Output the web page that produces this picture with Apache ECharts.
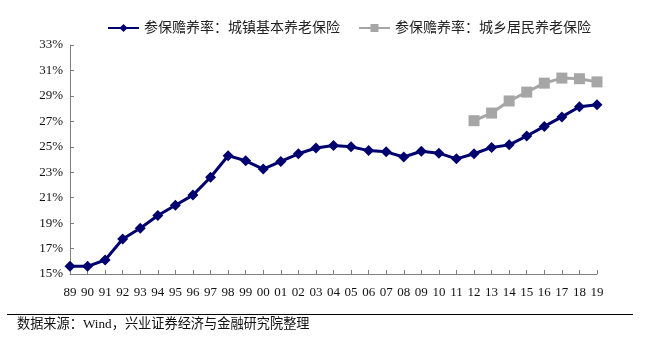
<!DOCTYPE html>
<html>
<head>
<meta charset="utf-8">
<script src="https://cdn.jsdelivr.net/npm/echarts@6/dist/echarts.min.js"></script>
<style>
  html, body { margin: 0; padding: 0; background: #fff; }
  #chart { width: 649px; height: 340px; }
</style>
</head>
<body>
<div id="chart"></div>
<script>
// Years (two-digit labels) 1989–2019
const years = ['89','90','91','92','93','94','95','96','97','98','99','00','01','02','03','04','05','06','07','08','09','10','11','12','13','14','15','16','17','18','19'];

// Dependency ratio, urban employee basic pension (%)
const urbanRatio = [15.6,15.6,16.1,17.75,18.6,19.6,20.4,21.2,22.6,24.3,23.9,23.25,23.85,24.45,24.9,25.1,25.0,24.7,24.6,24.2,24.65,24.5,24.05,24.45,24.95,25.15,25.85,26.6,27.35,28.15,28.3];

// Dependency ratio, urban & rural resident pension (%), available from 2012
const residentRatio = [null,null,null,null,null,null,null,null,null,null,null,null,null,null,null,null,null,null,null,null,null,null,null,27.05,27.65,28.6,29.3,30.0,30.4,30.35,30.1];

const seriesNames = ['参保赡养率：城镇基本养老保险', '参保赡养率：城乡居民养老保险'];
const sourceNote = '数据来源：Wind，兴业证券经济与金融研究院整理';

const serif = '"Times New Roman", "Liberation Serif", "Noto Sans CJK SC", serif';
const cjk = '"Liberation Serif", "Noto Sans CJK SC", serif';

const chart = echarts.init(document.getElementById('chart'));
chart.setOption({
  animation: false,
  backgroundColor: '#ffffff',
  grid: { left: 70, right: 52, top: 45, bottom: 66 },
  legend: {
    top: 16,
    left: 102,
    itemWidth: 31,
    itemHeight: 10,
    itemGap: 18,
    textStyle: { fontFamily: cjk, fontSize: 14, color: '#222' },
    data: seriesNames
  },
  xAxis: {
    type: 'category',
    data: years,
    boundaryGap: false,
    axisLine: { lineStyle: { color: '#808080', width: 1 } },
    axisTick: { inside: true, length: 4, lineStyle: { color: '#808080' } },
    axisLabel: { fontFamily: serif, fontSize: 13, color: '#111', margin: 12, interval: 0 }
  },
  yAxis: {
    type: 'value',
    min: 15,
    max: 33,
    interval: 2,
    splitLine: { show: false },
    axisLine: { show: true, lineStyle: { color: '#808080', width: 1 } },
    axisTick: { show: true, inside: true, length: 4, lineStyle: { color: '#808080' } },
    axisLabel: { fontFamily: serif, fontSize: 13, color: '#111', margin: 7, formatter: v => v + '%' }
  },
  series: [
    {
      name: seriesNames[0],
      type: 'line',
      data: urbanRatio,
      color: '#00006E',
      lineStyle: { width: 3, color: '#00006E' },
      symbol: 'diamond',
      symbolSize: 11,
      itemStyle: { color: '#00006E' }
    },
    {
      name: seriesNames[1],
      type: 'line',
      data: residentRatio,
      color: '#A6A6A6',
      lineStyle: { width: 3, color: '#A6A6A6' },
      symbol: 'rect',
      symbolSize: 11,
      itemStyle: { color: '#A6A6A6' }
    }
  ],
  graphic: [
    {
      type: 'line',
      shape: { x1: 7, y1: 314.5, x2: 633, y2: 314.5 },
      style: { stroke: '#000', lineWidth: 1 }
    },
    {
      type: 'text',
      left: 17,
      top: 318,
      style: { text: sourceNote, font: '13.2px ' + cjk, fill: '#111' }
    }
  ]
});
</script>
</body>
</html>
